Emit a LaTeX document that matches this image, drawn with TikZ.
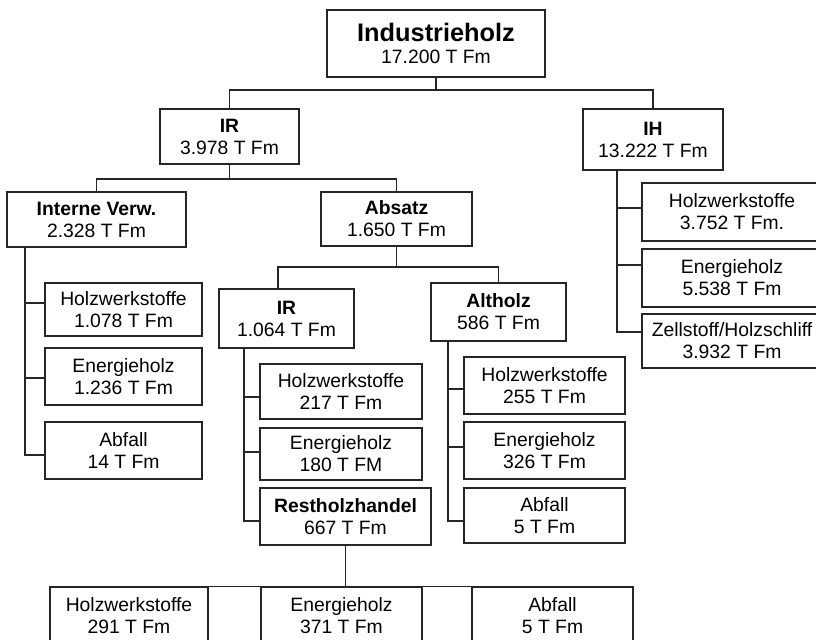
\documentclass[tikz,border=0pt]{standalone}
\usepackage{fontspec}
\setmainfont{Liberation Sans}
\begin{document}
\begin{tikzpicture}[x=0.75pt,y=-0.75pt,
  box/.style 2 args={draw=black!85, line width=0.9pt, fill=white, inner sep=0pt,
    align=center, minimum width=#1*0.75pt, minimum height=#2*0.75pt,
    font=\fontsize{14.5}{16.5}\selectfont},
  conn/.style={draw=black!85, line width=0.9pt},
  hd/.style={font=\bfseries}]
\useasboundingbox (0,0) rectangle (816,639);
\clip (0,0) rectangle (816,639);
\fill[white] (0,0) rectangle (816,639);

% level 0 and 1
\node[box={218}{67}] (top) at (436,43.5) {{\fontsize{19}{19}\selectfont\bfseries Industrieholz}\\17.200 T Fm};
\node[box={139}{55}] (ir1) at (229.5,136.5) {\textbf{IR}\\3.978 T Fm};
\node[box={140}{61}] (ih) at (653,139.5) {\textbf{IH}\\13.222 T Fm};

% level 2 below IR
\node[box={179}{55}] (intern) at (96.5,219.5) {\textbf{Interne Verw.}\\2.328 T Fm};
\node[box={151}{54}] (absatz) at (396.5,219) {\textbf{Absatz}\\1.650 T Fm};

% children of IH
\node[box={180}{58}] (ihc1) at (732,212) {Holzwerkstoffe\\3.752 T Fm.};
\node[box={180}{58}] (ihc2) at (732,278) {Energieholz\\5.538 T Fm};
\node[box={180}{54}] (ihc3) at (732,341) {Zellstoff/Holzschliff\\3.932 T Fm};

% children of Interne Verw.
\node[box={157}{53}] (ic1) at (123.5,309.5) {Holzwerkstoffe\\1.078 T Fm};
\node[box={157}{57}] (ic2) at (123.5,376.5) {Energieholz\\1.236 T Fm};
\node[box={157}{57}] (ic3) at (123.5,450.5) {Abfall\\14 T Fm};

% level 3 below Absatz
\node[box={135}{59}] (ir2) at (286.5,318.5) {\textbf{IR}\\1.064 T Fm};
\node[box={135}{58}] (alt) at (498.5,312) {\textbf{Altholz}\\586 T Fm};

% children of IR (Absatz)
\node[box={162}{55}] (rc1) at (341,391.5) {Holzwerkstoffe\\217 T Fm};
\node[box={162}{52}] (rc2) at (341,454) {Energieholz\\180 T FM};
\node[box={171}{57}] (rest) at (345.5,516.5) {\textbf{Restholzhandel}\\667 T Fm};

% children of Altholz
\node[box={161}{57}] (ac1) at (544.5,385.5) {Holzwerkstoffe\\255 T Fm};
\node[box={161}{57}] (ac2) at (544.5,450.5) {Energieholz\\326 T Fm};
\node[box={161}{55}] (ac3) at (544.5,515.5) {Abfall\\5 T Fm};

% children of Restholzhandel
\node[box={158}{58}] (bc1) at (129,616) {Holzwerkstoffe\\291 T Fm};
\node[box={161}{58}] (bc2) at (341.5,616) {Energieholz\\371 T Fm};
\node[box={161}{58}] (bc3) at (552.5,616) {Abfall\\5 T Fm};

% spine positions
\coordinate (sIntern) at (25,0);
\coordinate (sIH) at (617,0);
\coordinate (sIR) at (244,0);
\coordinate (sAlt) at (448,0);

% tree connectors
\draw[conn] (top.south) -- (top.south |- 0,90);
\draw[conn] (ir1.north) |- (ih.north |- 0,90) -- (ih.north);
\draw[conn] (ir1.south) -- (ir1.south |- 0,179);
\draw[conn] (intern.north) |- (absatz.north |- 0,179) -- (absatz.north);
\draw[conn] (absatz.south) -- (absatz.south |- 0,267);
\draw[conn] (ir2.north -| 278,0) |- (alt.north |- 0,267) -- (alt.north);
\draw[conn] (rest.south) -- (rest.south |- 0,570);
\draw[conn] (bc1.north -| 126,0) |- (bc3.north -| 548,570) -- (bc3.north -| 548,0);
\draw[conn] (rest.south |- 0,570) -- (bc2.north -| rest.south);

% side spines
\draw[conn] (ih.south -| sIH) |- (ihc3.west |- 0,332);
\draw[conn] (sIH |- 0,208) -- (ihc1.west |- 0,208);
\draw[conn] (sIH |- 0,265) -- (ihc2.west |- 0,265);

\draw[conn] (intern.south -| sIntern) |- (ic3.west |- 0,455);
\draw[conn] (sIntern |- 0,303) -- (ic1.west |- 0,303);
\draw[conn] (sIntern |- 0,378) -- (ic2.west |- 0,378);

\draw[conn] (ir2.south -| sIR) |- (rest.west |- 0,521);
\draw[conn] (sIR |- 0,397) -- (rc1.west |- 0,397);
\draw[conn] (sIR |- 0,452) -- (rc2.west |- 0,452);

\draw[conn] (alt.south -| sAlt) |- (ac3.west |- 0,521);
\draw[conn] (sAlt |- 0,389) -- (ac1.west |- 0,389);
\draw[conn] (sAlt |- 0,447) -- (ac2.west |- 0,447);
\end{tikzpicture}
\end{document}
